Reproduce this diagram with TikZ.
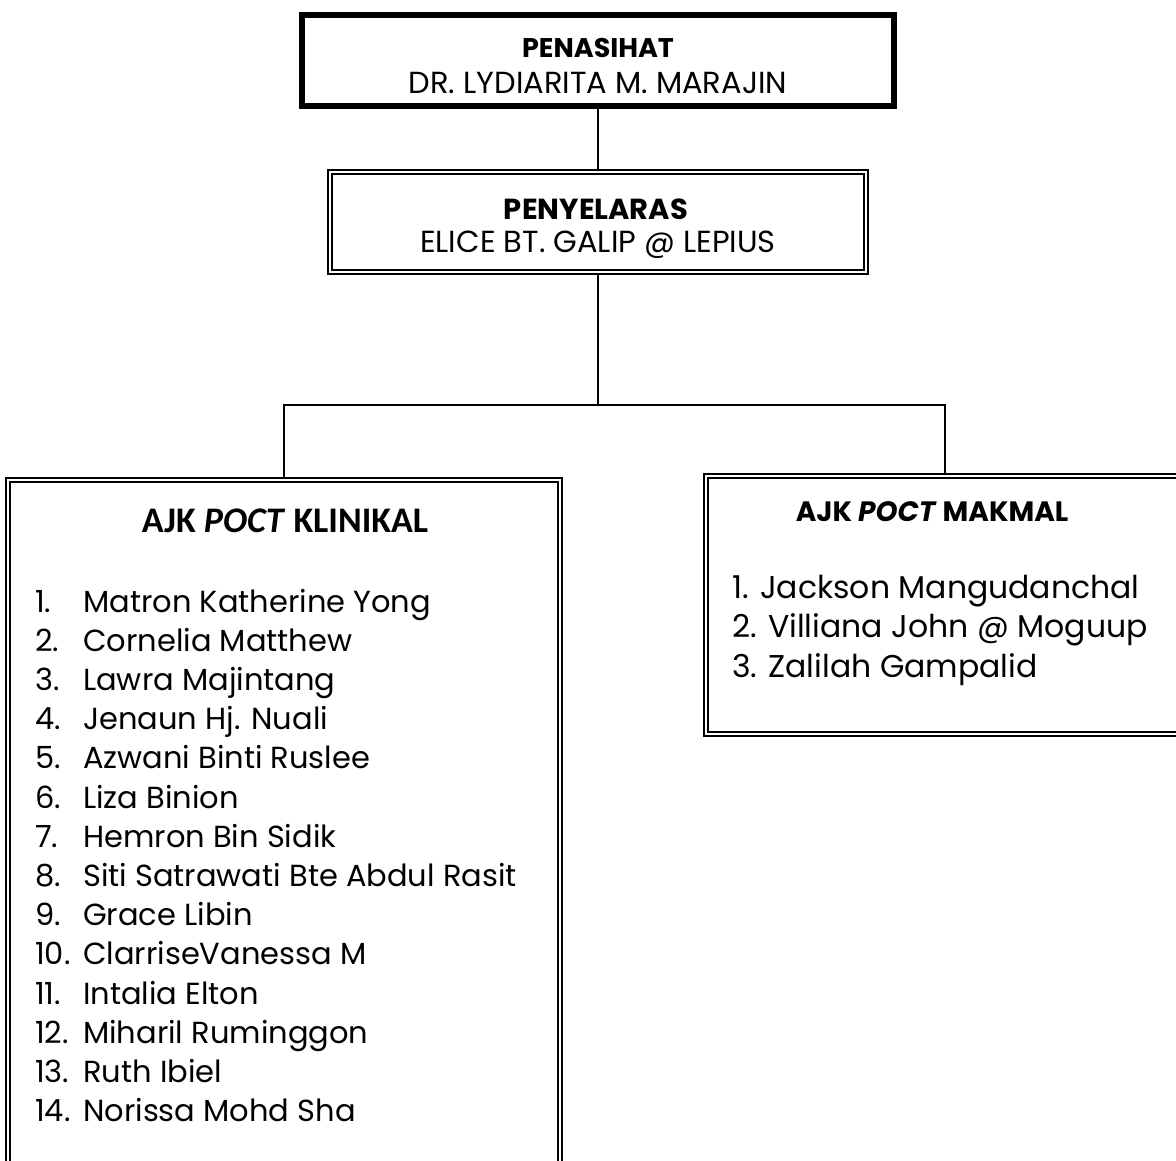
\documentclass[tikz,border=0pt]{standalone}
\usepackage{fontspec}
\setmainfont{Poppins}
\newfontfamily\calib{Carlito}
\usetikzlibrary{backgrounds}
\tikzset{
  boxthick/.style={draw, line width=6pt, inner sep=0pt, fill=white},
  boxdouble/.style={draw, line width=2pt, double, double distance=2.5pt, inner sep=0pt, fill=white},
  head/.style={inner sep=0pt, anchor=base, font=\fontsize{27}{32}\selectfont\bfseries},
  body/.style={inner sep=0pt, font=\fontsize{30.5}{36}\selectfont},
  conn/.style={line width=1.3pt}
}
\begin{document}
\begin{tikzpicture}[x=1pt,y=-1pt]
\useasboundingbox (0,0) rectangle (1176,1161);
\clip (0,0) rectangle (1176,1161);
% boxes
\node[boxthick, minimum width=592pt, minimum height=91pt] (pen) at (598,60.5) {};
\node[boxdouble, minimum width=536pt, minimum height=100pt] (pes) at (598,222) {};
\node[boxdouble, minimum width=552pt, minimum height=740pt] (kli) at (284,850) {};
\node[boxdouble, minimum width=560pt, minimum height=258pt] (mak) at (986,605) {};
% connectors
\begin{scope}[on background layer]
\draw[conn] (pen.south) -- (pes.north);
\coordinate (split) at (598,405);
\draw[conn] (pes.south) -- (split);
\draw[conn] (split) -| (kli.north);
\draw[conn] (split) -| (mak.north -| 945,0);
\end{scope}
% texts
\node[head] (t1) at (598,58) {PENASIHAT};
\node[body, anchor=base] (t2) at (598,94) {DR. LYDIARITA M. MARAJIN};
\node[head, font=\fontsize{29}{34}\selectfont\bfseries] (t3) at (596,220) {PENYELARAS};
\node[body, anchor=base] (t4) at (598,253) {ELICE BT. GALIP @ LEPIUS};
\node[inner sep=0pt, anchor=base, font=\calib\fontsize{36}{42}\selectfont\bfseries] (t5) at (285,532) {AJK \textit{POCT} KLINIKAL};
\node[head, font=\fontsize{28}{33}\selectfont\bfseries] (t6) at (932,521) {AJK \textit{POCT} MAKMAL};
\foreach \n/\name [count=\i from 0] in {1/Matron Katherine Yong,2/Cornelia Matthew,3/Lawra Majintang,4/Jenaun Hj. Nuali,5/Azwani Binti Ruslee,6/Liza Binion,7/Hemron Bin Sidik,8/Siti Satrawati Bte Abdul Rasit,9/Grace Libin,10/ClarriseVanessa M,11/Intalia Elton,12/Miharil Ruminggon,13/Ruth Ibiel,14/Norissa Mohd Sha}{
  \node[body, anchor=base west] (kn\n) at (35,612+39.2*\i) {\n.};
  \node[body, anchor=base west] (kt\n) at (83,612+39.2*\i) {\name};
}
\node[body, anchor=base west, font=\fontsize{31.5}{37}\selectfont] (m1) at (732,598) {1. Jackson Mangudanchal};
\node[body, anchor=base west, font=\fontsize{31.5}{37}\selectfont] (m2) at (732,637.5) {2. Villiana John @ Moguup};
\node[body, anchor=base west, font=\fontsize{31.5}{37}\selectfont] (m3) at (732,677) {3. Zalilah Gampalid};
\end{tikzpicture}
\end{document}
